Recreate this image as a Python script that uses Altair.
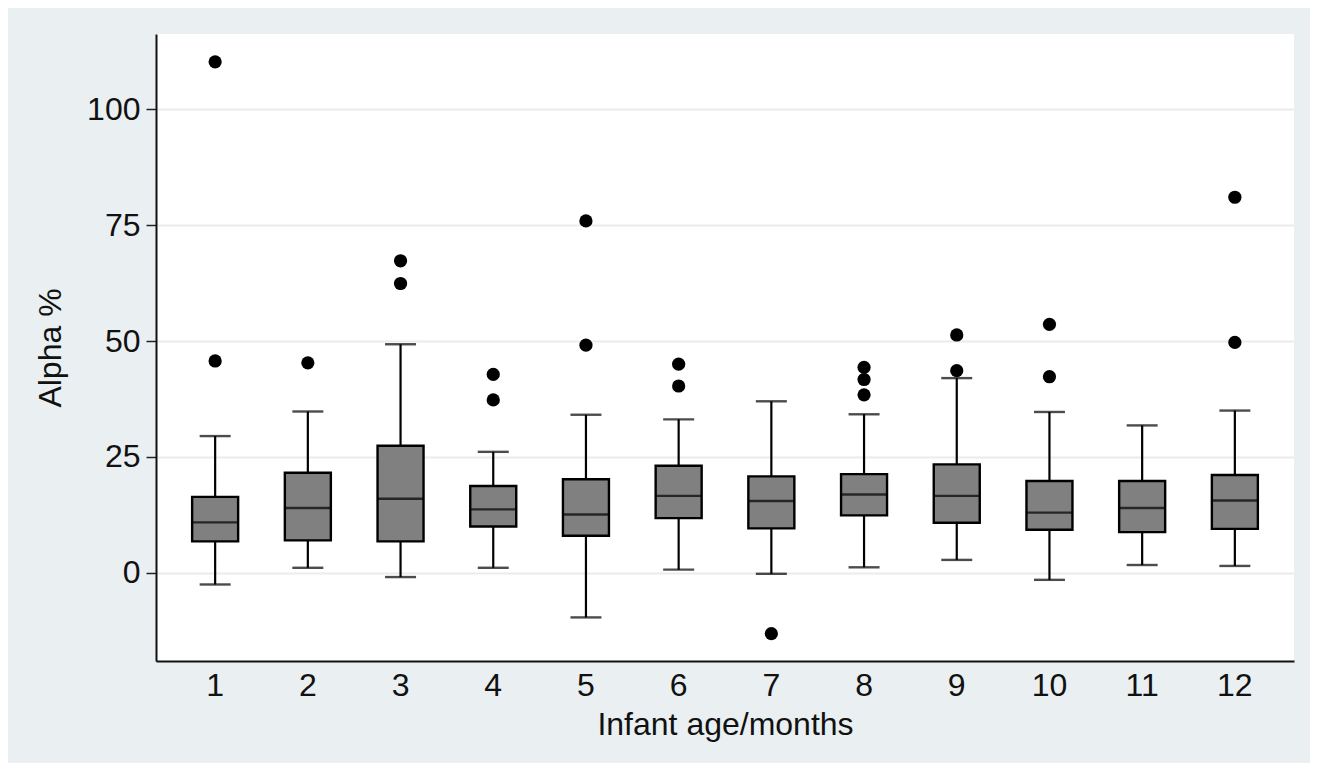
import altair as alt
import pandas as pd

months = [1, 2, 3, 4, 5, 6, 7, 8, 9, 10, 11, 12]
lower = [-2.5, 1.1, -0.9, 1.1, -9.6, 0.7, -0.2, 1.2, 2.8, -1.5, 1.7, 1.5]
q1 = [6.8, 7.0, 6.8, 10.0, 8.0, 11.8, 9.6, 12.4, 10.8, 9.3, 8.8, 9.5]
median = [10.9, 14.0, 16.0, 13.7, 12.6, 16.6, 15.5, 16.9, 16.6, 13.0, 14.0, 15.6]
q3 = [16.4, 21.6, 27.4, 18.75, 20.2, 23.1, 20.8, 21.3, 23.4, 19.8, 19.8, 21.1]
upper = [29.5, 34.8, 49.3, 26.1, 34.1, 33.1, 37.0, 34.2, 42.0, 34.7, 31.8, 35.0]

outlier_month = [1, 1, 2, 3, 3, 4, 4, 5, 5, 6, 6, 7, 8, 8, 8, 9, 9, 10, 10, 12, 12]
outlier_value = [110.2, 45.7, 45.3, 67.3, 62.4, 42.8, 37.3, 75.9, 49.1, 45.0, 40.3,
                 -13.1, 44.3, 41.7, 38.4, 51.3, 43.6, 53.6, 42.3, 81.0, 49.7]

y_ticks = [0, 25, 50, 75, 100]

boxes = pd.DataFrame({"month": months, "lower": lower, "q1": q1,
                      "median": median, "q3": q3, "upper": upper})
outs = pd.DataFrame({"month": outlier_month, "value": outlier_value})

FONT = "Liberation Sans"

xscale = alt.Scale(type="band", paddingInner=0, paddingOuter=0.138)
xenc = alt.X("month:O", scale=xscale, sort=months,
             axis=alt.Axis(title="Infant age/months", labelAngle=0, ticks=False,
                           labelPadding=9, titlePadding=8, grid=False))
yscale = alt.Scale(domain=[-19, 116.2], nice=False, zero=False)
yaxis = alt.Axis(title="Alpha %", values=y_ticks, tickSize=10, tickWidth=1.5,
                 tickColor="#222222", labelPadding=6, titlePadding=19,
                 grid=True, gridColor="#ebebeb", gridWidth=2)

base = alt.Chart(boxes)

whisker = base.mark_rule(color="black", strokeWidth=2.2).encode(
    x=xenc,
    y=alt.Y("lower:Q", scale=yscale, axis=yaxis),
    y2="upper:Q",
)
caps_lo = base.mark_tick(color="black", size=31, thickness=2.4).encode(
    x=xenc, y=alt.Y("lower:Q", scale=yscale, axis=yaxis))
caps_hi = base.mark_tick(color="black", size=31, thickness=2.4).encode(
    x=xenc, y=alt.Y("upper:Q", scale=yscale, axis=yaxis))
box = base.mark_bar(size=46, fill="#808080", stroke="black", strokeWidth=2.4).encode(
    x=xenc, y=alt.Y("q1:Q", scale=yscale, axis=yaxis), y2="q3:Q")
med = base.mark_tick(color="black", size=46, thickness=2.4).encode(
    x=xenc, y=alt.Y("median:Q", scale=yscale, axis=yaxis))
pts = alt.Chart(outs).mark_circle(color="black", size=175, opacity=1).encode(
    x=xenc, y=alt.Y("value:Q", scale=yscale, axis=yaxis))

chart = alt.layer(whisker, caps_lo, caps_hi, box, med, pts).properties(
    width=1138, height=627,
    background="#eaeff2",
    autosize=alt.AutoSizeParams(type="none"),
    padding={"left": 148, "top": 26, "right": 16, "bottom": 102},
).configure_view(
    fill="white", stroke=None
).configure_axis(
    labelFont=FONT, titleFont=FONT, labelFontSize=32, titleFontSize=32,
    labelColor="#111111", titleColor="#111111", titleFontWeight="normal",
    domainColor="#111111", domainWidth=2,
)

chart.save("out.html", embed_options={"renderer": "svg", "actions": False})
